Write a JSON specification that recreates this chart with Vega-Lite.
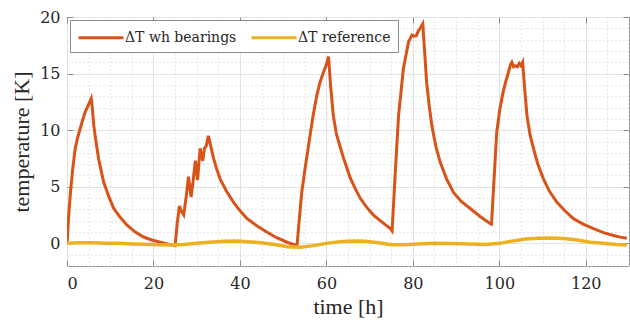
{
  "$schema": "https://vega.github.io/schema/vega-lite/v6.json",
  "width": 562,
  "height": 249,
  "autosize": {"type": "none"},
  "padding": {"left": 67, "top": 17, "right": 1, "bottom": 59},
  "background": "white",
  "config": {
    "view": {"stroke": "#8c8c8c", "strokeWidth": 1},
    "axis": {
      "labelColor": "#262626",
      "titleColor": "#262626",
      "domain": false,
      "tickColor": "#8c8c8c",
      "gridColor": "#e3e3e3"
    }
  },
  "datasets": {
    "w": [
      {"t": 0, "v": 0}, {"t": 0.4, "v": 2.5}, {"t": 0.8, "v": 4.5}, {"t": 1.3, "v": 6.5}, {"t": 1.9, "v": 8.4},
      {"t": 2.5, "v": 9.4}, {"t": 3.1, "v": 10.2}, {"t": 3.7, "v": 11.0}, {"t": 4.2, "v": 11.6}, {"t": 4.9, "v": 12.2},
      {"t": 5.6, "v": 12.8}, {"t": 5.9, "v": 11.8}, {"t": 6.2, "v": 10.4}, {"t": 6.7, "v": 9.0}, {"t": 7.3, "v": 7.5},
      {"t": 7.9, "v": 6.4}, {"t": 8.5, "v": 5.4}, {"t": 9.5, "v": 4.3}, {"t": 10.8, "v": 3.1}, {"t": 12.3, "v": 2.3},
      {"t": 13.9, "v": 1.6}, {"t": 15.8, "v": 1.0}, {"t": 17.7, "v": 0.56}, {"t": 19.6, "v": 0.3}, {"t": 21.6, "v": 0.1},
      {"t": 23.2, "v": -0.05}, {"t": 24.7, "v": -0.18}, {"t": 25.0, "v": -0.2}, {"t": 25.5, "v": 1.8}, {"t": 26.0, "v": 3.3},
      {"t": 26.5, "v": 2.8}, {"t": 27.0, "v": 2.5}, {"t": 27.6, "v": 4.2}, {"t": 28.1, "v": 5.9}, {"t": 28.7, "v": 4.1},
      {"t": 29.2, "v": 5.6}, {"t": 29.7, "v": 7.3}, {"t": 30.2, "v": 5.6}, {"t": 30.8, "v": 8.4}, {"t": 31.4, "v": 7.3},
      {"t": 31.8, "v": 8.4}, {"t": 32.2, "v": 8.6}, {"t": 32.7, "v": 9.5}, {"t": 33.3, "v": 8.5}, {"t": 33.9, "v": 7.5},
      {"t": 34.6, "v": 6.6}, {"t": 35.4, "v": 5.7}, {"t": 36.9, "v": 4.6}, {"t": 38.5, "v": 3.65}, {"t": 40.0, "v": 2.9},
      {"t": 41.6, "v": 2.2}, {"t": 43.9, "v": 1.55}, {"t": 46.2, "v": 1.0}, {"t": 48.5, "v": 0.5}, {"t": 50.9, "v": 0.1},
      {"t": 53.2, "v": -0.2}, {"t": 53.8, "v": 2.4}, {"t": 54.3, "v": 4.5}, {"t": 55.1, "v": 6.7}, {"t": 55.9, "v": 8.7},
      {"t": 56.8, "v": 11.0}, {"t": 57.8, "v": 13.1}, {"t": 58.5, "v": 14.2}, {"t": 59.3, "v": 15.1}, {"t": 60.0, "v": 15.8},
      {"t": 60.5, "v": 16.5}, {"t": 61.0, "v": 13.8}, {"t": 61.6, "v": 11.3}, {"t": 62.3, "v": 9.7}, {"t": 63.2, "v": 8.5},
      {"t": 64.0, "v": 7.5}, {"t": 65.5, "v": 5.8}, {"t": 66.6, "v": 4.9}, {"t": 67.8, "v": 4.0}, {"t": 69.3, "v": 3.2},
      {"t": 70.9, "v": 2.5}, {"t": 72.8, "v": 1.9}, {"t": 74.8, "v": 1.3}, {"t": 75.2, "v": 1.1}, {"t": 75.9, "v": 6.0},
      {"t": 76.7, "v": 11.3}, {"t": 77.8, "v": 15.4}, {"t": 79.0, "v": 17.8}, {"t": 79.8, "v": 18.4}, {"t": 80.3, "v": 18.3},
      {"t": 80.8, "v": 18.35}, {"t": 81.3, "v": 18.8}, {"t": 81.7, "v": 19.0}, {"t": 82.3, "v": 19.4}, {"t": 82.8, "v": 16.5},
      {"t": 83.2, "v": 14.2}, {"t": 83.8, "v": 12.1}, {"t": 84.4, "v": 10.4}, {"t": 85.3, "v": 8.6}, {"t": 86.3, "v": 7.2},
      {"t": 87.8, "v": 5.7}, {"t": 89.4, "v": 4.5}, {"t": 91.2, "v": 3.7}, {"t": 93.2, "v": 3.1}, {"t": 95.5, "v": 2.4},
      {"t": 97.9, "v": 1.74}, {"t": 98.2, "v": 1.7}, {"t": 98.8, "v": 5.8}, {"t": 99.4, "v": 9.8}, {"t": 100.1, "v": 11.8},
      {"t": 100.9, "v": 13.4}, {"t": 101.5, "v": 14.3}, {"t": 102.1, "v": 15.1}, {"t": 102.6, "v": 15.8}, {"t": 102.9, "v": 16.0},
      {"t": 103.3, "v": 15.6}, {"t": 103.7, "v": 15.7}, {"t": 104.2, "v": 15.6}, {"t": 104.6, "v": 15.9}, {"t": 105.0, "v": 15.7},
      {"t": 105.4, "v": 16.0}, {"t": 105.9, "v": 13.5}, {"t": 106.4, "v": 11.3}, {"t": 107.1, "v": 9.6}, {"t": 107.9, "v": 8.4},
      {"t": 108.9, "v": 7.0}, {"t": 110.2, "v": 5.7}, {"t": 111.6, "v": 4.6}, {"t": 113.3, "v": 3.65}, {"t": 115.1, "v": 2.9},
      {"t": 117.1, "v": 2.2}, {"t": 119.4, "v": 1.7}, {"t": 121.8, "v": 1.3}, {"t": 124.1, "v": 0.95}, {"t": 126.4, "v": 0.7},
      {"t": 128.0, "v": 0.55}, {"t": 129.5, "v": 0.45}
    ],
    "r": [
      {"t": 0, "v": 0.0}, {"t": 3, "v": 0.05}, {"t": 6, "v": 0.05}, {"t": 9, "v": 0.0}, {"t": 12, "v": 0.0},
      {"t": 15, "v": -0.05}, {"t": 18, "v": -0.08}, {"t": 21, "v": -0.12}, {"t": 24, "v": -0.15}, {"t": 27, "v": -0.1},
      {"t": 30, "v": 0.0}, {"t": 33, "v": 0.1}, {"t": 36, "v": 0.18}, {"t": 39, "v": 0.2}, {"t": 42, "v": 0.15},
      {"t": 45, "v": 0.05}, {"t": 48, "v": -0.1}, {"t": 51, "v": -0.3}, {"t": 54, "v": -0.35}, {"t": 57, "v": -0.2},
      {"t": 60, "v": 0.0}, {"t": 63, "v": 0.15}, {"t": 66, "v": 0.2}, {"t": 69, "v": 0.18}, {"t": 72, "v": 0.05},
      {"t": 75, "v": -0.12}, {"t": 78, "v": -0.12}, {"t": 81, "v": -0.05}, {"t": 85, "v": 0.0}, {"t": 89, "v": -0.02},
      {"t": 93, "v": -0.05}, {"t": 97, "v": -0.1}, {"t": 100, "v": 0.0}, {"t": 103, "v": 0.2}, {"t": 106, "v": 0.38},
      {"t": 109, "v": 0.45}, {"t": 112, "v": 0.47}, {"t": 115, "v": 0.42}, {"t": 118, "v": 0.3}, {"t": 121, "v": 0.1},
      {"t": 124, "v": 0.0}, {"t": 127, "v": -0.1}, {"t": 129.5, "v": -0.15}
    ]
  },
  "layer": [
    {
      "data": {"name": "w"},
      "mark": {"type": "point", "opacity": 0},
      "encoding": {
        "x": {"field": "t", "type": "quantitative", "scale": {"domain": [0, 130], "nice": false, "zero": false},
          "axis": {"orient": "bottom", "values": [0,5,10,15,20,25,30,35,40,45,50,55,60,65,70,75,80,85,90,95,100,105,110,115,120,125,130],
            "grid": true, "gridDash": [1, 3], "gridColor": "#cfcfcf", "labels": false, "ticks": false, "domain": false, "title": null, "minExtent": 0, "maxExtent": 0}},
        "y": {"field": "v", "type": "quantitative", "scale": {"domain": [-2, 20], "nice": false, "zero": false},
          "axis": {"orient": "left", "values": [-2,-1,0,1,2,3,4,5,6,7,8,9,10,11,12,13,14,15,16,17,18,19,20],
            "grid": true, "gridDash": [1, 3], "gridColor": "#cfcfcf", "labels": false, "ticks": false, "domain": false, "title": null, "minExtent": 0, "maxExtent": 0}}
      }
    },
    {
      "data": {"name": "w"},
      "mark": {"type": "line", "strokeWidth": 3, "clip": true},
      "encoding": {
        "x": {"field": "t", "type": "quantitative",
          "axis": {"orient": "bottom", "values": [0, 20, 40, 60, 80, 100, 120], "grid": true, "gridColor": "#e3e3e3",
            "tickSize": -6, "labelFont": "DejaVu Serif", "labelFontSize": 16, "labelPadding": 15,
            "title": "time [h]", "titleFont": "Liberation Serif", "titleFontWeight": "normal", "titleFontSize": 22, "titlePadding": 5}},
        "y": {"field": "v", "type": "quantitative",
          "axis": {"orient": "left", "values": [0, 5, 10, 15, 20], "grid": true, "gridColor": "#e3e3e3",
            "tickSize": -6, "labelFont": "DejaVu Serif", "labelFontSize": 16, "labelPadding": 13,
            "title": "temperature [K]", "titleFont": "Liberation Serif", "titleFontWeight": "normal", "titleFontSize": 22, "titlePadding": 6}},
        "color": {"datum": "ΔT wh bearings", "type": "nominal",
          "scale": {"domain": ["ΔT wh bearings", "ΔT reference"], "range": ["#D95319", "#EDB120"]},
          "legend": {
            "title": null,
            "orient": "top-left",
            "offset": 3,
            "direction": "horizontal",
            "fillColor": "white",
            "strokeColor": "#8c8c8c",
            "padding": 7,
            "labelFont": "DejaVu Serif",
            "labelFontSize": 14,
            "labelColor": "#262626",
            "symbolType": "M-1,0H4",
            "symbolSize": 324,
            "symbolStrokeWidth": 3,
            "symbolFillColor": "transparent",
            "labelOffset": 27,
            "columnPadding": 8
          }}
      }
    },
    {
      "data": {"name": "r"},
      "mark": {"type": "line", "strokeWidth": 3.5, "clip": true},
      "encoding": {
        "x": {"field": "t", "type": "quantitative", "axis": null},
        "y": {"field": "v", "type": "quantitative", "axis": null},
        "color": {"datum": "ΔT reference", "type": "nominal"}
      }
    },
    {
      "data": {"name": "w"},
      "mark": {"type": "point", "opacity": 0},
      "encoding": {
        "x": {"field": "t", "type": "quantitative",
          "axis": {"orient": "top", "values": [0, 20, 40, 60, 80, 100, 120], "grid": false, "labels": false, "tickSize": -6, "title": null, "domain": false}},
        "y": {"field": "v", "type": "quantitative",
          "axis": {"orient": "right", "values": [0, 5, 10, 15, 20], "grid": false, "labels": false, "tickSize": -6, "title": null, "domain": false}}
      }
    }
  ],
  "resolve": {"axis": {"x": "independent", "y": "independent"}}
}
